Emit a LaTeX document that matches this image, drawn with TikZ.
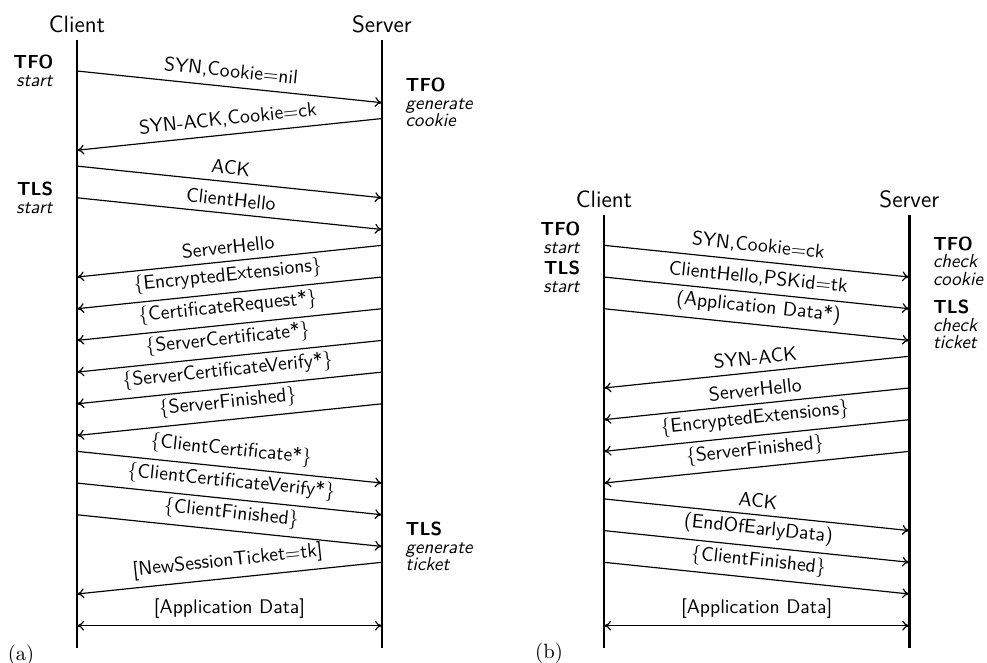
\documentclass[tikz,border=0pt]{standalone}
\usetikzlibrary{positioning,arrows.meta}
\renewcommand{\familydefault}{\sfdefault}
\begin{document}
\begin{tikzpicture}[
  lifeline/.style={line width=1.4pt},
  msg/.style={semithick,-{To[length=3.6pt,width=5pt]}},
  twoway/.style={semithick,{To[length=3.6pt,width=5pt]}-{To[length=3.6pt,width=5pt]}},
  lbl/.style={above,sloped},
  party/.style={font=\large,anchor=south},
  note/.style={font=\fontsize{9.6}{8.9}\selectfont},
  notel/.style={note,align=right},
  noter/.style={note,align=left},
  sublbl/.style={font=\rmfamily\fontsize{10.5}{12}\selectfont}]
\useasboundingbox (0,0) rectangle (17.625,-11.839);
% time grid on the four lifelines
\foreach \t in {0,...,35} {
  \coordinate (ac\t) at (1.375,{-1.268-0.283*\t});
  \coordinate (as\t) at (6.821,{-1.268-0.283*\t});
  \coordinate (bc\t) at (10.786,{-1.268-0.283*\t});
  \coordinate (bs\t) at (16.238,{-1.268-0.283*\t});
}
% (a) full handshake
\node[party] (acli) at (1.375,-0.714) {Client};
\node[party] (asrv) at (6.821,-0.714) {Server};
\coordinate (acend) at (1.375,-11.571);
\coordinate (asend) at (6.821,-11.571);
\draw[lifeline] (acli.south) -- (acend);
\draw[lifeline] (asrv.south) -- (asend);
\node[notel,left=0.3cm of ac0] (atfo) {\textbf{TFO}\\\textit{start}};
\node[notel,left=0.3cm of ac8] (atls) {\textbf{TLS}\\\textit{start}};
\node[noter,right=0.3cm of as2] (agencookie) {\textbf{TFO}\\\textit{generate}\\\textit{cookie}};
\node[noter,right=0.3cm of as30] (agenticket) {\textbf{TLS}\\\textit{generate}\\\textit{ticket}};
\draw[msg] (ac0) -- node[lbl] {SYN,Cookie=nil} (as2);
\draw[msg] (as3) -- node[lbl] {SYN-ACK,Cookie=ck} (ac5);
\draw[msg] (ac6) -- node[lbl] {ACK} (as8);
\draw[msg] (ac8) -- node[lbl] {ClientHello} (as10);
\draw[msg] (as11) -- node[lbl] {ServerHello} (ac13);
\draw[msg] (as13) -- node[lbl] {\{EncryptedExtensions\}} (ac15);
\draw[msg] (as15) -- node[lbl] {\{CertificateRequest*\}} (ac17);
\draw[msg] (as17) -- node[lbl] {\{ServerCertificate*\}} (ac19);
\draw[msg] (as19) -- node[lbl] {\{ServerCertificateVerify*\}} (ac21);
\draw[msg] (as21) -- node[lbl] {\{ServerFinished\}} (ac23);
\draw[msg] (ac24) -- node[lbl] {\{ClientCertificate*\}} (as26);
\draw[msg] (ac26) -- node[lbl] {\{ClientCertificateVerify*\}} (as28);
\draw[msg] (ac28) -- node[lbl] {\{ClientFinished\}} (as30);
\draw[msg] (as31) -- node[lbl] {[NewSessionTicket=tk]} (ac33);
\draw[twoway] (ac35) -- node[lbl] {[Application Data]} (as35);
\node[sublbl] (asub) at (0.375,-11.696) {(a)};
% (b) resumed handshake
\node[party] (bcli) at (10.786,-3.839) {Client};
\node[party] (bsrv) at (16.238,-3.839) {Server};
\coordinate (bcend) at (10.786,-11.571);
\coordinate (bsend) at (16.238,-11.571);
\draw[lifeline] (bcli.south) -- (bcend);
\draw[lifeline] (bsrv.south) -- (bsend);
\node[notel,left=0.3cm of bc11,yshift=0.13cm] (btfo) {\textbf{TFO}\\\textit{start}};
\node[notel,left=0.3cm of bc13] (btls) {\textbf{TLS}\\\textit{start}};
\node[noter,right=0.3cm of bs12] (bchkcookie) {\textbf{TFO}\\\textit{check}\\\textit{cookie}};
\node[noter,right=0.3cm of bs16] (bchkticket) {\textbf{TLS}\\\textit{check}\\\textit{ticket}};
\draw[msg] (bc11) -- node[lbl] {SYN,Cookie=ck} (bs13);
\draw[msg] (bc13) -- node[lbl] {ClientHello,PSKid=tk} (bs15);
\draw[msg] (bc15) -- node[lbl] {(Application Data*)} (bs17);
\draw[msg] (bs18) -- node[lbl] {SYN-ACK} (bc20);
\draw[msg] (bs20) -- node[lbl] {ServerHello} (bc22);
\draw[msg] (bs22) -- node[lbl] {\{EncryptedExtensions\}} (bc24);
\draw[msg] (bs24) -- node[lbl] {\{ServerFinished\}} (bc26);
\draw[msg] (bc27) -- node[lbl] {ACK} (bs29);
\draw[msg] (bc29) -- node[lbl] {(EndOfEarlyData)} (bs31);
\draw[msg] (bc31) -- node[lbl] {\{ClientFinished\}} (bs33);
\draw[twoway] (bc35) -- node[lbl] {[Application Data]} (bs35);
\node[sublbl] (bsub) at (9.804,-11.66) {(b)};
\end{tikzpicture}
\end{document}
